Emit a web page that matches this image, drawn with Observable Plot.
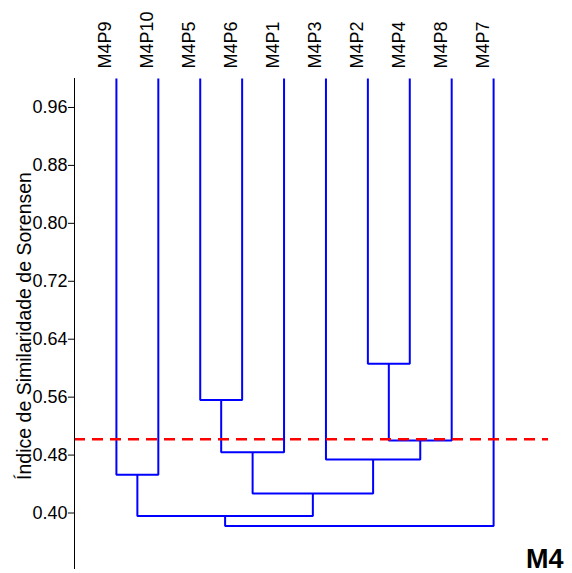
<!DOCTYPE html>
<html>
<head>
<meta charset="utf-8">
<script src="https://cdn.jsdelivr.net/npm/d3@7"></script>
<script src="https://cdn.jsdelivr.net/npm/@observablehq/plot@0.6"></script>
<style>
  html, body { margin: 0; padding: 0; background: #fff; }
  #chart svg { display: block; }
</style>
</head>
<body>
<div id="chart"></div>
<script>
// Leaves in dendrogram order (left to right)
const leaves = ["M4P9", "M4P10", "M4P5", "M4P6", "M4P1", "M4P3", "M4P2", "M4P4", "M4P8", "M4P7"];
const leafHeight = 1.0;
// Merges (cluster c1..c9 in order): child A, child B, similarity
const mergeA = ["M4P2", "M4P5", "c1", "c2", "M4P3", "M4P9", "c4", "c6", "c8"];
const mergeB = ["M4P4", "M4P6", "M4P8", "M4P1", "c3", "M4P10", "c5", "c7", "M4P7"];
const mergeHeight = [0.606, 0.556, 0.500, 0.484, 0.474, 0.453, 0.427, 0.396, 0.382];
// Cut-off line
const cutoff = 0.502;
// Axis
const yTicks = [0.40, 0.48, 0.56, 0.64, 0.72, 0.80, 0.88, 0.96];
const yMin = 0.322;
const yTitle = "Índice de Similaridade de Sorensen";
const panelLabel = "M4";

// Build node positions
const nodeX = new Map(leaves.map((d, i) => [d, i]));
const nodeH = new Map(leaves.map(d => [d, leafHeight]));
const segs = [];
mergeA.forEach((a, i) => {
  const b = mergeB[i], h = mergeHeight[i], id = "c" + (i + 1);
  const xa = nodeX.get(a), xb = nodeX.get(b);
  segs.push({id, x: xa, y: nodeH.get(a)});
  segs.push({id, x: xa, y: h});
  segs.push({id, x: xb, y: h});
  segs.push({id, x: xb, y: nodeH.get(b)});
  nodeX.set(id, (xa + xb) / 2);
  nodeH.set(id, h);
});
const xDomain = [-1, 10.31];

const plot = Plot.plot({
  width: 572,
  height: 573,
  marginTop: 78,
  marginBottom: 4,
  marginLeft: 74,
  marginRight: 24,
  style: {fontFamily: "'Liberation Sans', Arial, sans-serif", color: "#000", background: "#fff"},
  x: {domain: xDomain, axis: null},
  y: {domain: [yMin, leafHeight]},
  marks: [
    Plot.line(segs, {x: "x", y: "y", z: "id", stroke: "#0000ff", strokeWidth: 2, strokeLinejoin: "miter", strokeLinecap: "butt"}),
    Plot.ruleY([cutoff], {stroke: "#ff0000", strokeWidth: 2.5, strokeDasharray: "11,7"}),
    Plot.ruleX([xDomain[0]], {y1: yMin, y2: leafHeight, stroke: "#000", strokeWidth: 1}),
    Plot.axisY({ticks: yTicks, tickFormat: d3.format(".2f"), tickSize: 6, tickPadding: 1, fontSize: 18, label: null, stroke: "#000"}),
    Plot.text(leaves, {x: (d, i) => i, y: leafHeight, text: d => d, rotate: -90, textAnchor: "start", lineAnchor: "bottom", dx: -5, dy: -10, fontSize: 18, fill: "#000"}),
    Plot.text([yTitle], {frameAnchor: "left", text: d => d, rotate: -90, textAnchor: "middle", lineAnchor: "bottom", dx: -44, dy: 2, fontSize: 19.5, fill: "#000"}),
    Plot.text([panelLabel], {frameAnchor: "bottom-right", text: d => d, textAnchor: "end", lineAnchor: "bottom", dx: 15, dy: -2, fontSize: 27, fontWeight: "bold", fill: "#000"})
  ]
});
document.getElementById("chart").appendChild(plot);
</script>
</body>
</html>
